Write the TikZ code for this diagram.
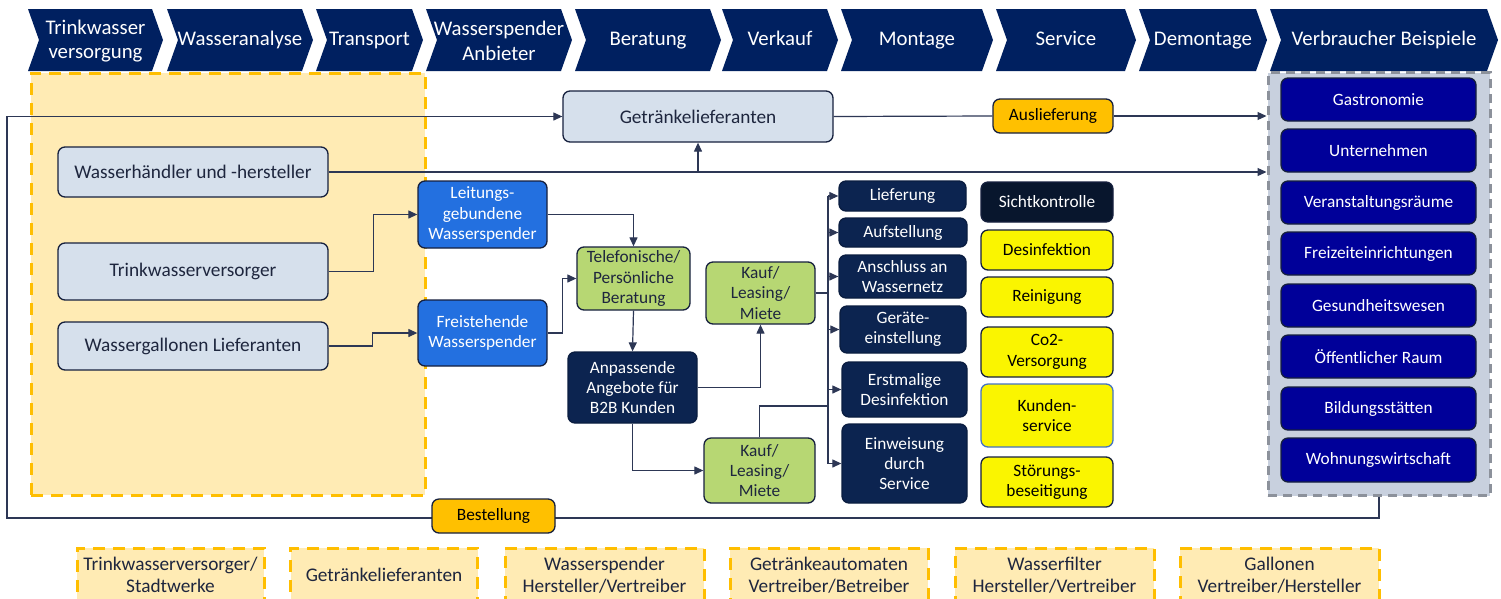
\documentclass[tikz,border=0pt]{standalone}
\usepackage{fontspec}
\setmainfont{Carlito}
\usetikzlibrary{arrows.meta,calc}
\definecolor{navy}{RGB}{0,32,96}
\definecolor{boxline}{RGB}{22,32,62}
\definecolor{conline}{RGB}{45,55,85}
\definecolor{lightbox}{RGB}{214,224,236}
\definecolor{txtdark}{RGB}{30,38,62}
\definecolor{bluebox}{RGB}{35,112,224}
\definecolor{greenbox}{RGB}{183,215,115}
\definecolor{darkbox}{RGB}{12,36,80}
\definecolor{blackbox}{RGB}{8,22,45}
\definecolor{ylw}{RGB}{250,245,0}
\definecolor{orng}{RGB}{255,192,0}
\definecolor{areafill}{RGB}{255,235,180}
\definecolor{arealine}{RGB}{255,190,0}
\definecolor{grayfill}{RGB}{200,208,222}
\definecolor{grayline}{RGB}{140,145,155}
\definecolor{consbox}{RGB}{0,0,153}
\definecolor{kundenline}{RGB}{68,114,196}
\newcommand\fsz{\fontsize{17.3}{20.3}\selectfont}
\newcommand\bsz{\fontsize{19.3}{23}\selectfont}
\newcommand\hsz{\fontsize{20.8}{24.5}\selectfont}
\newcommand\lsz{\fontsize{19.3}{22}\selectfont}
\tikzset{
  base/.style={draw=boxline, line width=1.3pt, rounded corners=7pt, inner sep=0pt, align=center, font=\fsz},
  light/.style={base, fill=lightbox, text=txtdark, font=\bsz},
  blue/.style={base, fill=bluebox, text=white},
  green/.style={base, fill=greenbox, text=txtdark},
  dark/.style={base, fill=darkbox, text=white, draw=darkbox!80!black},
  blk/.style={base, fill=blackbox, text=white},
  yel/.style={base, fill=ylw, text=black},
  org/.style={base, fill=orng, text=black},
  cons/.style={base, fill=consbox, text=white, draw=boxline},
  hdr/.style={text=white, font=\hsz, align=center, inner sep=0pt},
  onel/.style={text height=14pt, text depth=4.5pt},
  legend/.style={draw=arealine, fill=areafill, line width=3pt, dash pattern=on 12pt off 8pt, align=center, font=\lsz, text=txtdark, inner sep=0pt},
  conn/.style={draw=conline, line width=1.2pt},
  arr/.style={conn, -{Triangle[length=9pt,width=8pt]}},
}
\newcommand\mybox[7]{\node[#6, minimum width={#4pt-#2pt}, minimum height={#5pt-#3pt}] (#1) at ({(#2+#4)/2},{(#3+#5)/2}) {#7};}
\newcommand\chev[5]{%
  \fill[navy] (#2,9) -- (#3,9) -- (#3+11,40) -- (#3,71) -- (#2,71) -- (#2+11,40) -- cycle;
  \node[hdr,#5] (#1) at ({(#2+#3)/2+5.5},41) {#4};}
\begin{document}
\begin{tikzpicture}[x=1pt,y=-1pt]
\clip (0,0) rectangle (1501,598);
\fill[white] (0,0) rectangle (1501,598);

% header chevrons
\chev{h1}{28}{152}{Trinkwasser\\versorgung}{}
\chev{h2}{167}{302}{Wasseranalyse}{onel}
\chev{h3}{316}{412}{Transport}{onel}
\chev{h4}{426}{561}{Wasserspender\\Anbieter}{}
\chev{h5}{575}{710}{Beratung}{onel}
\chev{h6}{722}{827}{Verkauf}{onel}
\chev{h7}{841}{982}{Montage}{onel}
\chev{h8}{996}{1125}{Service}{onel}
\chev{h9}{1139}{1256}{Demontage}{onel}
\chev{h10}{1270}{1487}{Verbraucher Beispiele}{onel}

% yellow area
\node[draw=arealine, fill=areafill, line width=3pt, dash pattern=on 12pt off 8pt, minimum width=394pt, minimum height=422pt, inner sep=0pt] (area) at (228,284) {};

% gray consumer area
\node[draw=grayline, fill=grayfill, line width=3pt, dash pattern=on 9pt off 6pt, minimum width=222pt, minimum height=423pt, inner sep=0pt] (cons) at (1379,284) {};

% consumer boxes
\mybox{c1}{1281}{78}{1476}{121}{cons}{Gastronomie}
\mybox{c2}{1281}{129}{1476}{172}{cons}{Unternehmen}
\mybox{c3}{1281}{181}{1476}{224}{cons}{Veranstaltungsräume}
\mybox{c4}{1281}{232}{1476}{275}{cons}{Freizeiteinrichtungen}
\mybox{c5}{1281}{284}{1476}{327}{cons}{Gesundheitswesen}
\mybox{c6}{1281}{335}{1476}{378}{cons}{Öffentlicher Raum}
\mybox{c7}{1281}{387}{1476}{430}{cons}{Bildungsstätten}
\mybox{c8}{1281}{438}{1476}{482}{cons}{Wohnungswirtschaft}

% left boxes
\mybox{getr}{563}{91}{833}{142}{light}{Getränkelieferanten}
\mybox{wh}{58}{147}{328}{197}{light}{Wasserhändler und -hersteller}
\mybox{tw}{58}{243}{328}{300}{light}{Trinkwasserversorger}
\mybox{wg}{58}{322}{328}{370}{light}{Wassergallonen Lieferanten}

\mybox{leit}{418}{181}{547}{248}{blue}{Leitungs-\\gebundene\\Wasserspender}
\mybox{frei}{418}{300}{547}{366}{blue}{Freistehende\\Wasserspender}
\mybox{tel}{577}{247}{690}{310}{green}{Telefonische/\\Persönliche\\Beratung}
\mybox{anp}{568}{352}{697}{423}{dark}{Anpassende\\Angebote für\\B2B Kunden}
\mybox{k1}{706}{262}{815}{324}{green}{Kauf/\\Leasing/\\Miete}
\mybox{k2}{704}{438}{815}{503}{green}{Kauf/\\Leasing/\\Miete}

\mybox{lief}{839}{181}{966}{211}{dark}{Lieferung}
\mybox{aufs}{839}{218}{967}{247}{dark}{Aufstellung}
\mybox{ansc}{839}{255}{966}{298}{dark}{Anschluss an\\Wassernetz}
\mybox{gera}{840}{306}{966}{353}{dark}{Geräte-\\einstellung}
\mybox{erst}{842}{362}{967}{417}{dark}{Erstmalige\\Desinfektion}
\mybox{einw}{842}{424}{967}{503}{dark}{Einweisung\\durch\\Service}

\mybox{sicht}{981}{182}{1113}{222}{blk}{Sichtkontrolle}
\mybox{desi}{981}{230}{1113}{270}{yel}{Desinfektion}
\mybox{rein}{981}{277}{1113}{317}{yel}{Reinigung}
\mybox{co2}{981}{327}{1113}{377}{yel}{Co2-\\Versorgung}
\mybox{kund}{981}{384}{1113}{447}{yel, draw=kundenline}{Kunden-\\service}
\mybox{stoe}{981}{457}{1113}{507}{yel}{Störungs-\\beseitigung}

% loop / order line
\coordinate (loopR) at (1379,518);
\coordinate (loopL) at (7,518);
\draw[arr] (loopR |- cons.south) -- (loopR) -- (loopL) |- (getr.west);
\mybox{best}{432}{499}{555}{533}{org}{Bestellung}

% delivery
\mybox{ausl}{993}{99}{1113}{133}{org}{Auslieferung}
\draw[conn] (getr.east) -- (ausl.west);
\draw[arr] (ausl.east) -- (ausl.east -| cons.west);

% Wasserhändler
\draw[arr] (wh.east) -- (wh.east -| cons.west);
\draw[arr] (getr.south |- wh.east) -- (getr.south);

\draw[arr] (tw.east) -- ++(45,0) |- (leit.west);
\draw[arr] (wg.east) -- ++(44,0) |- (frei.west);
\draw[arr] (leit.east) -| (tel.north);
\draw[arr] (frei.east) -- ++(15,0) |- (tel.west);
\draw[arr] (tel.south) -- (anp.north);
\draw[arr] (anp.east) -| (k1.south);
\draw[arr] (anp.south) |- (k2.west);

% bus
\coordinate (bus) at (828,300);
\coordinate (bus2) at (828,406);
\draw[conn] (k1.east) -- (k1.east -| bus);
\draw[conn] (k2.north) |- (bus2);
\draw[conn] (bus |- lief.west) -- (bus |- einw.west);
\foreach \n in {lief,aufs,ansc,gera,erst,einw}
  \draw[arr] (bus |- \n.west) -- (\n.west);

% legend
\node[legend, minimum width=187pt, minimum height=54pt] (l1) at (170.5,575) {Trinkwasserversorger/\\Stadtwerke};
\node[legend, minimum width=187pt, minimum height=54pt] (l2) at (384,575) {Getränkelieferanten};
\node[legend, minimum width=199pt, minimum height=54pt] (l3) at (604.5,575) {Wasserspender\\Hersteller/Vertreiber};
\node[legend, minimum width=198pt, minimum height=54pt] (l4) at (829,575) {Getränkeautomaten\\Vertreiber/Betreiber};
\node[legend, minimum width=199pt, minimum height=54pt] (l5) at (1054.5,575) {Wasserfilter\\Hersteller/Vertreiber};
\node[legend, minimum width=199pt, minimum height=54pt] (l6) at (1279.5,575) {Gallonen\\Vertreiber/Hersteller};
\end{tikzpicture}
\end{document}
